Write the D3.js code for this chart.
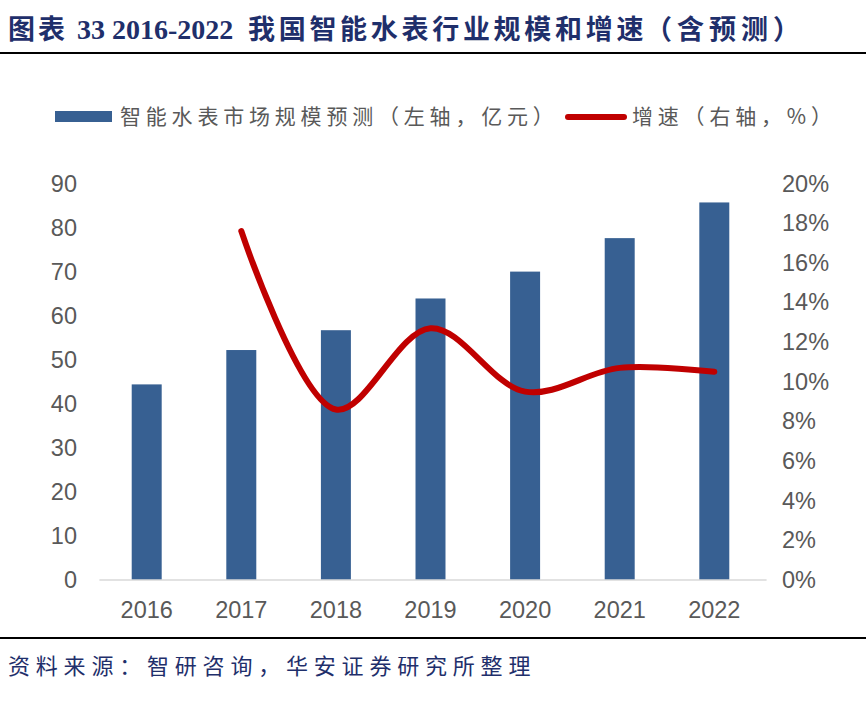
<!DOCTYPE html>
<html><head><meta charset="utf-8">
<script src="https://cdn.jsdelivr.net/npm/d3@7"></script>
<style>body{margin:0;background:#fff}svg{display:block}</style>
</head><body>
<svg id="c" width="866" height="707"></svg>
<script>
const years = ["2016","2017","2018","2019","2020","2021","2022"];
const marketSize = [44.4, 52.2, 56.7, 63.9, 70.0, 77.6, 85.7];
const growthYears = ["2017","2018","2019","2020","2021","2022"];
const growthRate = [17.6, 8.6, 12.7, 9.5, 10.7, 10.5];
const leftTicks = [0,10,20,30,40,50,60,70,80,90];
const rightTicks = [0,2,4,6,8,10,12,14,16,18,20];

const svg = d3.select("#c");
const W = 866, H = 707;
const plot = {left: 99.4, right: 761.6, top: 183.5, bottom: 580};
const gray = "#595959", barColor = "#376092", lineColor = "#c00000", navy = "#1f2f6b";
const axisFont = "Arial, 'Liberation Sans', sans-serif";
const cjkFont = "'Noto Sans CJK SC', sans-serif";

// Title
const title = svg.append("text").attr("y", 39)
  .attr("fill", navy).attr("font-weight", "bold");
title.append("tspan").attr("x", 8).attr("font-family", cjkFont).attr("font-size", 27).attr("letter-spacing", 3).text("图表");
title.append("tspan").attr("x", 77).attr("font-family", "'Liberation Serif', serif").attr("font-size", 28).text("33 2016-2022");
title.append("tspan").attr("x", 248).attr("font-family", cjkFont).attr("font-size", 27).attr("letter-spacing", 3.7).text("我国智能水表行业规模和增速");
title.append("tspan").attr("x", 645).attr("font-family", cjkFont).attr("font-size", 27).attr("letter-spacing", 5).text("（含预测）");
svg.append("line").attr("x1", 0).attr("x2", W).attr("y1", 53).attr("y2", 53)
  .attr("stroke", "#000").attr("stroke-width", 2);

// Scales
const x = d3.scaleBand().domain(years).range([plot.left, plot.right]).paddingInner(0.683).paddingOuter(0.3415);
const yL = d3.scaleLinear().domain([0, 90]).range([plot.bottom, plot.top]);
const yR = d3.scaleLinear().domain([0, 20]).range([plot.bottom, plot.top]);

// Bars
svg.append("g").selectAll("rect").data(years).join("rect")
  .attr("x", d => x(d)).attr("width", x.bandwidth())
  .attr("y", (d, i) => yL(marketSize[i])).attr("height", (d, i) => yL(0) - yL(marketSize[i]))
  .attr("fill", barColor);

// Baseline
svg.append("line").attr("x1", plot.left).attr("x2", plot.right + 5)
  .attr("y1", plot.bottom).attr("y2", plot.bottom)
  .attr("stroke", "#d9d9d9").attr("stroke-width", 1.5);

// Axes
const leftAxis = d3.axisLeft(yL).tickValues(leftTicks).tickSize(0).tickPadding(0).tickFormat(d3.format("d"));
const gL = svg.append("g").attr("transform", "translate(77,0)").call(leftAxis);
const rightAxis = d3.axisRight(yR).tickValues(rightTicks).tickSize(0).tickPadding(0).tickFormat(d => d + "%");
const gR = svg.append("g").attr("transform", "translate(782,0)").call(rightAxis);
const bottomAxis = d3.axisBottom(x).tickSize(0).tickPadding(0);
const gB = svg.append("g").attr("transform", "translate(0,618)").call(bottomAxis);
[gL, gR, gB].forEach(g => {
  g.select(".domain").remove();
  g.selectAll("text").attr("fill", gray).attr("font-size", 23.5).attr("font-family", axisFont);
});
gB.selectAll("text").attr("dy", "0");

// Growth line
const line = d3.line()
  .x((d, i) => x(growthYears[i]) + x.bandwidth() / 2)
  .y(d => yR(d))
  .curve(d3.curveCatmullRom.alpha(0.5));
svg.append("path").datum(growthRate).attr("d", line)
  .attr("fill", "none").attr("stroke", lineColor).attr("stroke-width", 6)
  .attr("stroke-linecap", "round").attr("stroke-linejoin", "round");

// Legend
svg.append("rect").attr("x", 55).attr("y", 111).attr("width", 57).attr("height", 11).attr("fill", barColor);
svg.append("text").attr("x", 120).attr("y", 124).attr("fill", gray).attr("font-size", 21)
  .attr("letter-spacing", 4.8).attr("font-family", cjkFont).text("智能水表市场规模预测（左轴，亿元）");
svg.append("line").attr("x1", 568).attr("x2", 624).attr("y1", 117).attr("y2", 117)
  .attr("stroke", lineColor).attr("stroke-width", 6).attr("stroke-linecap", "round");
svg.append("text").attr("x", 632).attr("y", 124).attr("fill", gray).attr("font-size", 21)
  .attr("letter-spacing", 4.8).attr("font-family", cjkFont).text("增速（右轴，%）");

// Footer
svg.append("line").attr("x1", 0).attr("x2", W).attr("y1", 638).attr("y2", 638)
  .attr("stroke", "#000").attr("stroke-width", 2);
svg.append("text").attr("x", 8).attr("y", 674).attr("fill", navy).attr("font-size", 22)
  .attr("letter-spacing", 5.8).attr("font-family", cjkFont).text("资料来源：智研咨询，华安证券研究所整理");
</script>
</body></html>
